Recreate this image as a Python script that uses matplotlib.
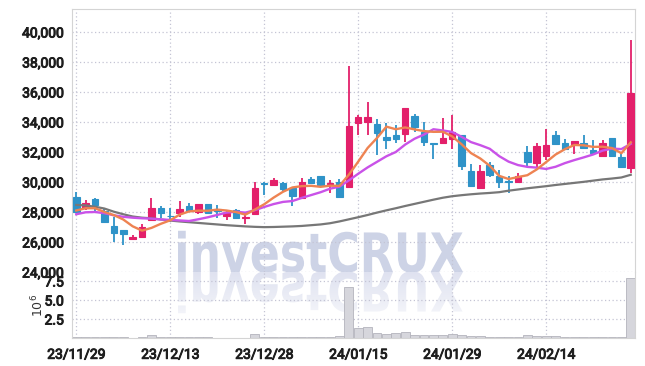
import numpy as np
import pandas as pd
import matplotlib
matplotlib.use('Agg')
import matplotlib.pyplot as plt
import matplotlib.patheffects as pe
from matplotlib.textpath import TextPath
from matplotlib.patches import PathPatch
from matplotlib.font_manager import FontProperties
from matplotlib.transforms import Affine2D
from matplotlib.colors import LinearSegmentedColormap

# daily candles, 23/11/29 .. 24/02/27 (60 trading days)
opens = [29020, 28250, 28850, 28050, 27070, 26800, 26200, 26350, 27470, 28290,
         27750, 27950, 28420, 28020, 28530, 28200, 27750, 28130, 27580, 27870,
         29950, 29800, 29950, 29580, 28910, 30200, 30400, 29850, 30020, 29690,
         33910, 33980, 33870, 32980, 33130, 33200, 34400, 33350, 32600, 32580,
         32850, 33130, 30730, 29580, 31130, 30400, 30070, 30020, 32020, 31290,
         31730, 33130, 32620, 32530, 32580, 32130, 31750, 32910, 31690, 30910]
highs = [29350, 28800, 28950, 28250, 27650, 26800, 26470, 27180, 28910, 28420,
         28250, 28730, 28580, 28560, 28560, 28470, 28130, 28170, 27910, 30020,
         29980, 30290, 30000, 29690, 30290, 30350, 30400, 30130, 30180, 37730,
         34470, 35350, 34200, 33910, 33800, 34910, 34530, 34020, 32600, 34250,
         34490, 33150, 31180, 31130, 31350, 30800, 30400, 30580, 32400, 32580,
         33510, 33420, 32850, 32730, 33130, 32800, 32800, 32910, 31950, 39470]
lows = [27900, 28130, 27950, 27350, 26020, 25800, 26130, 26300, 27400, 27580,
        27350, 27690, 28020, 27870, 27870, 27580, 27470, 27580, 27200, 27820,
        29130, 29750, 29310, 28400, 28910, 29850, 29800, 29250, 29020, 29580,
        33130, 33130, 31800, 32180, 32580, 32690, 33350, 32400, 31510, 32580,
        32180, 30800, 29750, 29580, 30350, 29580, 29250, 30020, 31020, 30910,
        31470, 32470, 32130, 31850, 32290, 31950, 31690, 31750, 31020, 30580]
closes = [27980, 28580, 28470, 27350, 26580, 26530, 26310, 27020, 28250, 27950,
          27700, 28200, 28090, 28510, 27910, 28070, 27910, 27580, 27650, 29580,
          29850, 30130, 29530, 29090, 30020, 29950, 29800, 29910, 29020, 33730,
          34310, 34350, 33250, 32800, 32870, 34910, 33690, 32690, 32550, 32910,
          33350, 31070, 29750, 30730, 30470, 30020, 30020, 30400, 31350, 32400,
          32470, 32530, 32200, 32730, 32290, 31950, 32580, 31750, 31020, 35910]
# volume in millions
volumes = [0.15, 0.12, 0.10, 0.10, 0.08, 0.08, 0.05, 0.08, 0.35, 0.12,
           0.08, 0.15, 0.10, 0.12, 0.08, 0.06, 0.05, 0.06, 0.06, 0.55,
           0.15, 0.12, 0.10, 0.12, 0.15, 0.10, 0.10, 0.10, 0.20, 6.70,
           1.30, 1.50, 0.60, 0.55, 0.60, 0.80, 0.40, 0.35, 0.35, 0.45,
           0.50, 0.35, 0.25, 0.20, 0.15, 0.12, 0.15, 0.12, 0.40, 0.20,
           0.30, 0.20, 0.15, 0.15, 0.12, 0.12, 0.15, 0.12, 0.15, 7.85]
# moving averages that need days before the window
ma5_head = [28100, 28250, 28250, 28000]
ma10_head = [27850, 27980, 28000, 27920, 27780, 27680, 27620, 27580, 27560]
ma60 = [28470, 28440, 28350, 28230, 28020, 27850, 27700, 27620, 27580, 27500,
        27430, 27370, 27320, 27270, 27220, 27170, 27120, 27080, 27040, 27010,
        26990, 27000, 27020, 27040, 27070, 27120, 27170, 27250, 27370, 27510,
        27650, 27800, 27960, 28110, 28250, 28400, 28540, 28680, 28820, 28950,
        29050, 29120, 29180, 29230, 29270, 29320, 29420, 29500, 29580, 29650,
        29720, 29800, 29870, 29940, 30010, 30090, 30170, 30230, 30300, 30480]
tick_pos = [0, 10, 20, 30, 40, 50]
tick_labels = ['23/11/29', '23/12/13', '23/12/28', '24/01/15', '24/01/29', '24/02/14']

UP = '#e3206a'
DOWN = '#2f93c8'
TXT = '#1e1e1e'
tick_font = {'family': ['Roboto', 'DejaVu Sans'], 'size': 10}

df = pd.DataFrame({'open': opens, 'high': highs, 'low': lows, 'close': closes, 'vol': volumes})
x = np.arange(len(df))
ma5 = df.close.rolling(5).mean().values
ma5[:4] = ma5_head
ma10 = df.close.rolling(10).mean().values
ma10[:9] = ma10_head

fig = plt.figure(figsize=(6.45, 3.66), dpi=100)
fig.patch.set_facecolor('white')
ax = fig.add_axes([72 / 645, 1 - 272 / 366, 563 / 645, 263 / 366])
ax2 = fig.add_axes([72 / 645, 1 - 338 / 366, 563 / 645, 66 / 366], sharex=ax)
for a in (ax, ax2):
    a.set_facecolor('none')
    a.set_axisbelow(True)
    a.grid(True, ls=(0, (1, 2)), color='#c4c4d4', lw=0.9)
    a.tick_params(length=0, pad=6, labelcolor=TXT)
    for s in a.spines.values():
        s.set_color('#d4d4d4')
ax.spines['bottom'].set_visible(False)
ax2.spines['top'].set_visible(False)

# watermark + reflection
fp = FontProperties(family='DejaVu Sans', weight='bold')
tp = TextPath((0, 0), 'investCRUX', size=1, prop=fp)
ext = tp.get_extents()
sx = (285 / 645) / ext.width
sy = (42 / 366) / ext.height
x0, y0 = 178 / 645, 1 - 272 / 366
wm = PathPatch(tp, transform=Affine2D().translate(-ext.x0, 0).scale(sx, sy).translate(x0, y0) + fig.transFigure,
               facecolor='#cdd3e6', edgecolor='none', zorder=-1)
fig.add_artist(wm)
refl = PathPatch(tp, transform=Affine2D().translate(-ext.x0, 0).scale(sx, -sy).translate(x0, y0) + fig.transFigure,
                 facecolor='none', edgecolor='none')
fig.add_artist(refl)
cmap = LinearSegmentedColormap.from_list('fade', ['#ffffff', '#dfe2f0'])
grad = np.linspace(0, 1, 100).reshape(-1, 1)
img = ax2.imshow(grad, cmap=cmap, extent=[-0.45, 59.45, 0, 8.68], origin='lower', aspect='auto', zorder=0.2)
img.set_clip_path(refl)

# candles
col = np.where(df.close >= df.open, UP, DOWN)
ax.vlines(x, df.low, df.high, colors=col, lw=1.3, zorder=3)
body = np.maximum((df.close - df.open).abs(), 40)
ax.bar(x, body, bottom=np.minimum(df.open, df.close), width=0.7, color=col, edgecolor=col, lw=0.8, zorder=4)

ax.plot(x, ma60, color='#777777', lw=1.6, zorder=5)
ax.plot(x, ma10, color='#c952e8', lw=1.7, zorder=5)
ax.plot(x, ma5, color='#ee8352', lw=1.7, zorder=6)

ax.set_xlim(-0.45, 59.45)
ax.set_ylim(24000, 41530)
ax.set_yticks(range(24000, 40001, 2000))
ax.set_yticklabels([f'{v:,}' for v in range(24000, 40001, 2000)], fontdict=tick_font)
plt.setp(ax.get_xticklabels(), visible=False)

ax2.bar(x, df.vol, width=0.95, color='#d6d6dc', edgecolor='#b4b4bc', lw=0.6, zorder=2)
ax2.set_ylim(0, 8.68)
ax2.set_yticks([2.5, 5.0, 7.5])
ax2.set_yticklabels(['2.5', '5.0', '7.5'], fontdict=tick_font)
ax2.set_xticks(tick_pos)
ax2.set_xticklabels(tick_labels, fontdict=tick_font)
ax2.tick_params(axis='x', pad=7)
ax2.set_ylabel('$10^{6}$', fontsize=9, color='#333333', labelpad=-1)

# heavier strokes for the tick text
for t in ax.get_yticklabels() + ax2.get_yticklabels() + ax2.get_xticklabels():
    t.set_path_effects([pe.withStroke(linewidth=0.7, foreground=TXT)])

fig.savefig('out.png', dpi=100, facecolor='white')
